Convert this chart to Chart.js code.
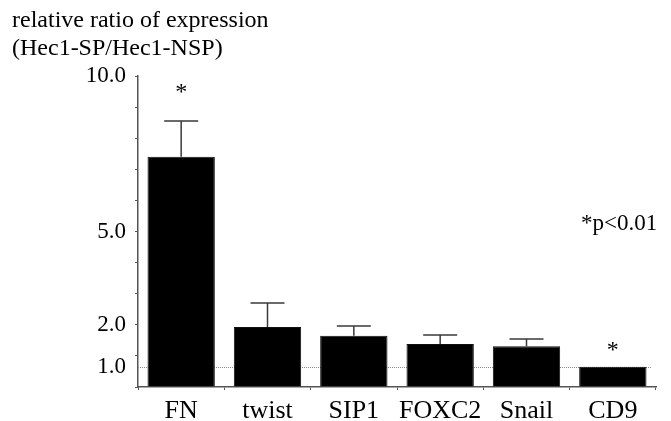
<!DOCTYPE html>
<html>
<head>
<meta charset="utf-8">
<script src="https://cdn.jsdelivr.net/npm/chart.js@4/dist/chart.umd.min.js"></script>
<style>
html, body { margin: 0; padding: 0; background: #fff; }
#wrap { width: 671px; height: 421px; position: relative; }
</style>
</head>
<body>
<div id="wrap"><canvas id="chart_expression"></canvas></div>
<script>
// values
var genes = ['FN', 'twist', 'SIP1', 'FOXC2', 'Snail', 'CD9'];
var ratios = [7.40, 1.93, 1.65, 1.38, 1.31, 0.65];
var errorTops = [8.55, 2.70, 1.96, 1.67, 1.54, null];
var starValues = [9.25, null, null, null, null, 0.97];
var tickLabels = { 10: '10.0', 5: '5.0', 2: '2.0' };
var referenceValue = 0.65;   // dotted line, labelled "1.0" in the figure
var referenceLabel = '1.0';
var titleLines = ['relative ratio of expression', '(Hec1-SP/Hec1-NSP)'];
var noteText = '*p<0.01';

var serif = "'Liberation Serif', 'Times New Roman', serif";

var extras = {
    id: 'extras',
    beforeDatasetsDraw: function(chart) {
        var ctx = chart.ctx, area = chart.chartArea;
        var py = Math.round(chart.scales.y.getPixelForValue(referenceValue)) + 0.5;
        ctx.save();
        ctx.strokeStyle = '#8c8c8c';
        ctx.lineWidth = 1;
        ctx.setLineDash([1, 1]);
        ctx.beginPath();
        ctx.moveTo(area.left, py);
        ctx.lineTo(area.right - 4, py);
        ctx.stroke();
        ctx.restore();
    },
    afterDatasetsDraw: function(chart) {
        var ctx = chart.ctx, y = chart.scales.y;
        var bars = chart.getDatasetMeta(0).data;
        ctx.save();
        ctx.strokeStyle = '#3a3a3a';
        ctx.lineWidth = 1.5;
        bars.forEach(function(bar, i) {
            if (errorTops[i] == null) return;
            var top = y.getPixelForValue(errorTops[i]);
            ctx.beginPath();
            ctx.moveTo(bar.x, bar.y);
            ctx.lineTo(bar.x, top);
            ctx.moveTo(bar.x - 17, top);
            ctx.lineTo(bar.x + 17, top);
            ctx.stroke();
        });
        ctx.fillStyle = '#000';
        ctx.font = '24px ' + serif;
        ctx.textAlign = 'center';
        ctx.textBaseline = 'alphabetic';
        bars.forEach(function(bar, i) {
            if (starValues[i] == null) return;
            ctx.fillText('*', bar.x, y.getPixelForValue(starValues[i]));
        });
        ctx.restore();
    },
    afterDraw: function(chart) {
        var ctx = chart.ctx, area = chart.chartArea;
        ctx.save();
        ctx.fillStyle = '#000';
        ctx.font = '24px ' + serif;
        ctx.textAlign = 'left';
        ctx.textBaseline = 'alphabetic';
        ctx.fillText(titleLines[0], 12, 27);
        ctx.fillText(titleLines[1], 12, 55);
        ctx.font = '23px ' + serif;
        ctx.fillText(noteText, area.right - 75, 230);
        ctx.restore();
    }
};

var chart_expression = new Chart(document.getElementById('chart_expression'), {
    type: 'bar',
    data: {
        labels: genes,
        datasets: [
            {
                data: ratios,
                backgroundColor: '#000',
                borderColor: '#111',
                borderWidth: 1,
                barPercentage: 0.78,
                categoryPercentage: 1.0
            }
        ]
    },
    options: {
        animation: false,
        responsive: true,
        maintainAspectRatio: false,
        layout: {
            padding: { top: 76, right: 15, bottom: 0, left: 0 }
        },
        plugins: {
            legend: { display: false },
            title: { display: false },
            tooltip: { enabled: false }
        },
        scales: {
            x: {
                afterFit: function(scale) { scale.height = 34; },
                grid: {
                    offset: true,
                    drawOnChartArea: false,
                    tickLength: 3,
                    color: '#555'
                },
                border: { color: '#555', width: 1.5 },
                ticks: {
                    padding: 6,
                    autoSkip: false,
                    maxRotation: 0,
                    minRotation: 0,
                    color: '#000',
                    font: { family: serif, size: 26 }
                }
            },
            y: {
                min: 0,
                max: 10,
                afterFit: function(scale) { scale.width = 138; },
                afterBuildTicks: function(scale) {
                    var t = [];
                    for (var v = 0; v <= 10; v++) t.push({ value: v });
                    t.push({ value: referenceValue });
                    t.sort(function(a, b) { return a.value - b.value; });
                    scale.ticks = t;
                },
                grid: {
                    drawOnChartArea: false,
                    tickLength: 3,
                    tickColor: function(c) {
                        return c.tick && c.tick.value === referenceValue ? 'rgba(0,0,0,0)' : '#555';
                    }
                },
                border: { color: '#555', width: 1.5 },
                ticks: {
                    padding: 9,
                    autoSkip: false,
                    color: '#000',
                    font: { family: serif, size: 23 },
                    callback: function(value) {
                        if (value === referenceValue) return referenceLabel;
                        return tickLabels[value] || '';
                    }
                }
            }
        }
    },
    plugins: [extras]
});
</script>
</body>
</html>
